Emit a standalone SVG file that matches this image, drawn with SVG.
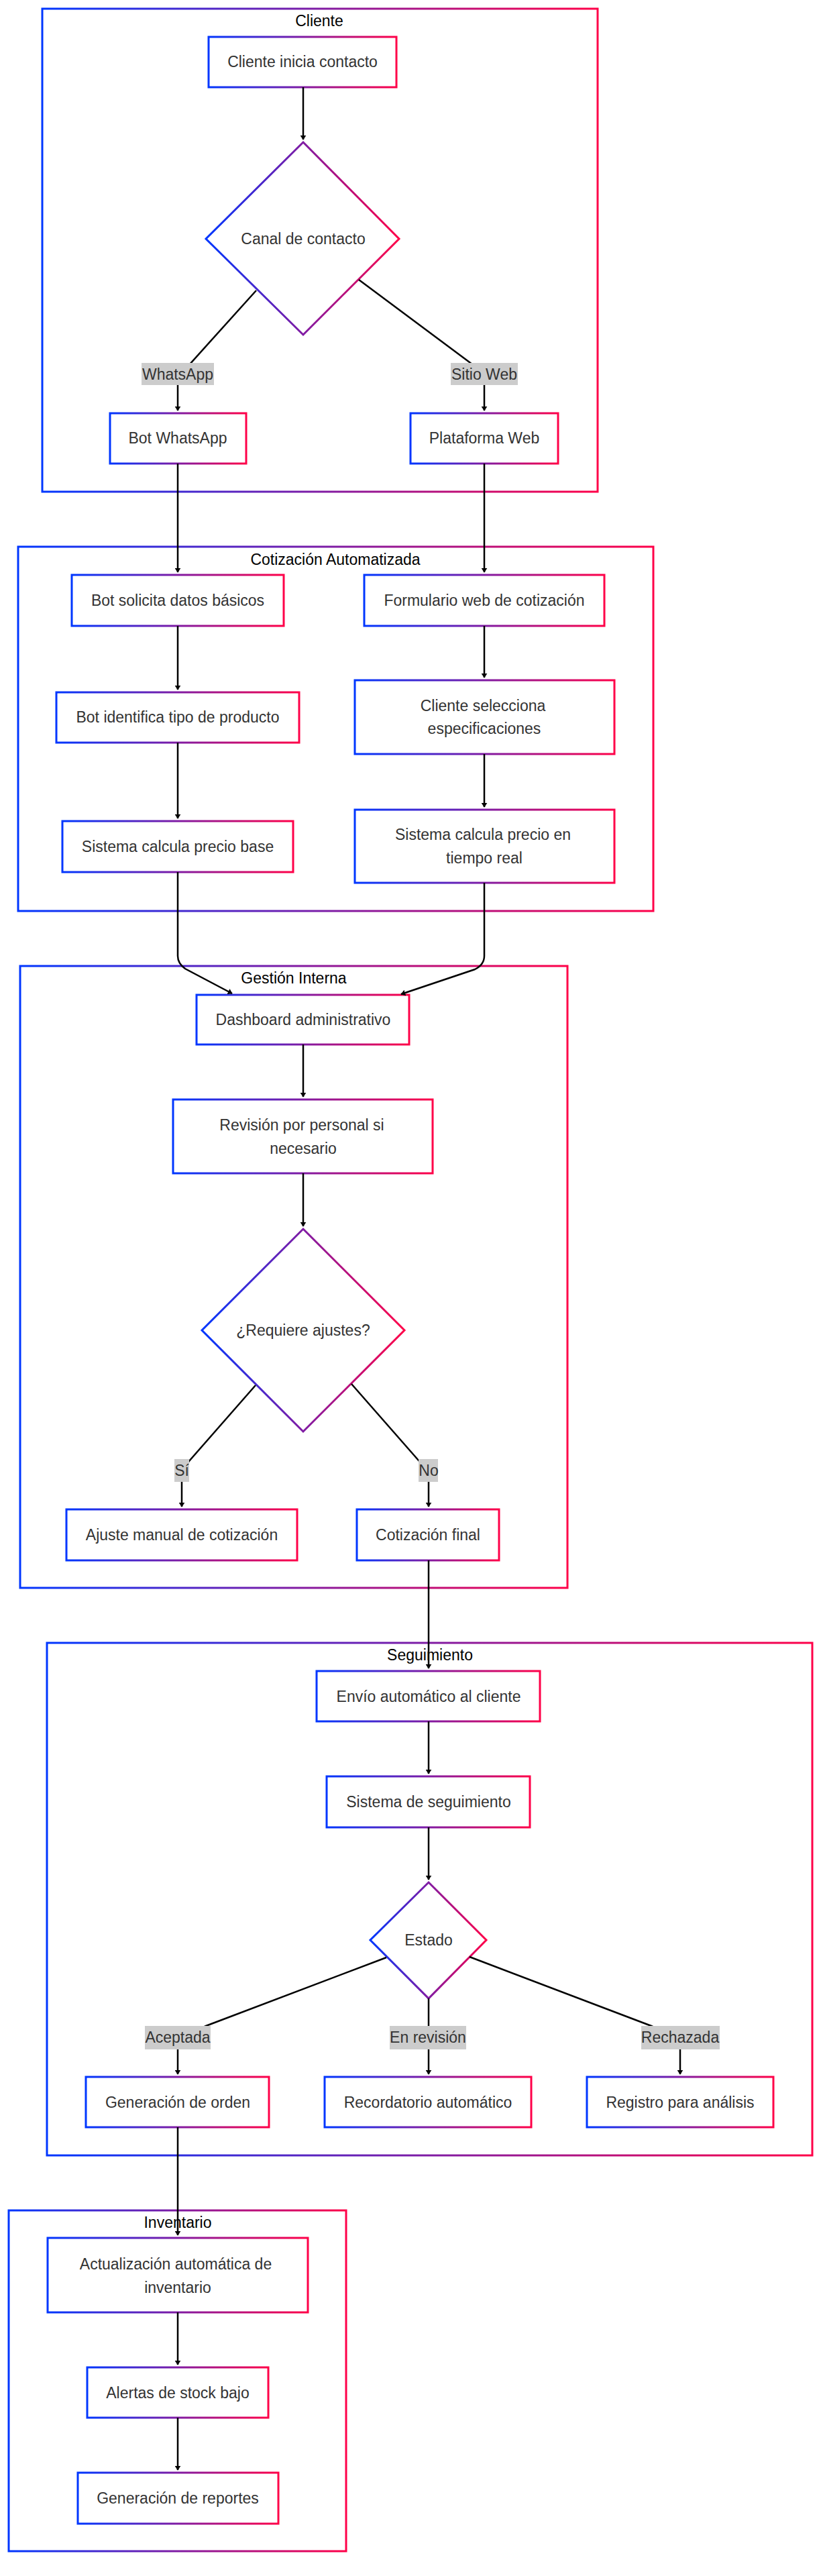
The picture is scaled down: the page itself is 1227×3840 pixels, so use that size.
<svg xmlns="http://www.w3.org/2000/svg" width="1227" height="3840" viewBox="0 0 1227 3840">
<defs>
<linearGradient id="g" x1="0" y1="0" x2="1" y2="0"><stop offset="0" stop-color="#0036ff"/><stop offset="1" stop-color="#ff0048"/></linearGradient>
<marker id="a" viewBox="0 0 10 10" refX="9" refY="5" markerWidth="7" markerHeight="9" markerUnits="userSpaceOnUse" orient="auto" preserveAspectRatio="none"><path d="M0,0 L10,5 L0,10 z" fill="#000"/></marker>
</defs>
<style>
rect,polygon{fill:#fff;stroke:url(#g);stroke-width:3}
.c{fill:none;stroke:url(#g);stroke-width:3}
text{font-family:"Liberation Sans",Arial,sans-serif;font-size:23px;fill:#333;text-anchor:middle;dominant-baseline:central}
.t{fill:#000}
.e path{fill:none;stroke:#000;stroke-width:2.5;marker-end:url(#a)}
.lb rect{fill:#cccccc;stroke:none}
</style>
<rect width="1227" height="3840" fill="#fff" style="stroke:none"/>
<g id="clusters">
<g id="cl-cliente"><rect class="c" x="63" y="13" width="828" height="720"/><text class="t" x="476" y="31">Cliente</text></g>
<g id="cl-cotizacion"><rect class="c" x="27" y="815" width="947" height="543"/><text class="t" x="500" y="834">Cotización Automatizada</text></g>
<g id="cl-gestion"><rect class="c" x="30" y="1440" width="816" height="927"/><text class="t" x="438" y="1458">Gestión Interna</text></g>
<g id="cl-seguimiento"><rect class="c" x="70" y="2449" width="1141" height="764"/><text class="t" x="641" y="2467">Seguimiento</text></g>
<g id="cl-inventario"><rect class="c" x="13" y="3295" width="503" height="508"/><text class="t" x="265" y="3313">Inventario</text></g>
</g>
<g id="n1"><rect x="311" y="55" width="280" height="75"/><text x="451" y="92">Cliente inicia contacto</text></g>
<g id="n2"><polygon points="452,212 595,356 452,499 307,356"/><text x="452" y="356">Canal de contacto</text></g>
<g id="n3"><rect x="164" y="616" width="203" height="75"/><text x="265" y="653">Bot WhatsApp</text></g>
<g id="n4"><rect x="612" y="616" width="220" height="75"/><text x="722" y="653">Plataforma Web</text></g>
<g id="n5"><rect x="107" y="857" width="316" height="76"/><text x="265" y="895">Bot solicita datos básicos</text></g>
<g id="n6"><rect x="543" y="857" width="358" height="76"/><text x="722" y="895">Formulario web de cotización</text></g>
<g id="n7"><rect x="84" y="1032" width="362" height="75"/><text x="265" y="1069">Bot identifica tipo de producto</text></g>
<g id="n8"><rect x="529" y="1014" width="387" height="110"/><text x="720" y="1052">Cliente selecciona</text><text x="722" y="1086">especificaciones</text></g>
<g id="n9"><rect x="93" y="1224" width="344" height="76"/><text x="265" y="1262">Sistema calcula precio base</text></g>
<g id="n10"><rect x="529" y="1207" width="387" height="109"/><text x="720" y="1244">Sistema calcula precio en</text><text x="722" y="1279">tiempo real</text></g>
<g id="n11"><rect x="293" y="1483" width="317" height="74"/><text x="452" y="1520">Dashboard administrativo</text></g>
<g id="n12"><rect x="258" y="1639" width="387" height="110"/><text x="450" y="1677">Revisión por personal si</text><text x="452" y="1712">necesario</text></g>
<g id="n13"><polygon points="452,1832 603,1983 452,2134 301,1983"/><text x="452" y="1983">¿Requiere ajustes?</text></g>
<g id="n14"><rect x="99" y="2250" width="344" height="76"/><text x="271" y="2288">Ajuste manual de cotización</text></g>
<g id="n15"><rect x="532" y="2250" width="212" height="76"/><text x="638" y="2288">Cotización final</text></g>
<g id="n16"><rect x="472" y="2491" width="333" height="75"/><text x="639" y="2529">Envío automático al cliente</text></g>
<g id="n17"><rect x="487" y="2648" width="303" height="76"/><text x="639" y="2686">Sistema de seguimiento</text></g>
<g id="n18"><polygon points="639,2806 725,2892 639,2979 552,2892"/><text x="639" y="2892">Estado</text></g>
<g id="n19"><rect x="128" y="3096" width="273" height="75"/><text x="265" y="3134">Generación de orden</text></g>
<g id="n20"><rect x="484" y="3096" width="308" height="75"/><text x="638" y="3134">Recordatorio automático</text></g>
<g id="n21"><rect x="875" y="3096" width="278" height="75"/><text x="1014" y="3134">Registro para análisis</text></g>
<g id="n22"><rect x="71" y="3336" width="388" height="111"/><text x="262" y="3375">Actualización automática de</text><text x="265" y="3410">inventario</text></g>
<g id="n23"><rect x="130" y="3529" width="270" height="75"/><text x="265" y="3567">Alertas de stock bajo</text></g>
<g id="n24"><rect x="116" y="3686" width="299" height="76"/><text x="265" y="3724">Generación de reportes</text></g>
<g id="connectors" class="e">
<path d="M452,130 L452,208"/>
<path d="M382,433 L281,545 L265,560 L265,612"/>
<path d="M535,417 L700,540 L722,557 L722,612"/>
<path d="M265,691 L265,853"/>
<path d="M722,691 L722,853"/>
<path d="M265,933 L265,1028"/>
<path d="M722,933 L722,1010"/>
<path d="M265,1107 L265,1220"/>
<path d="M722,1124 L722,1203"/>
<path d="M265,1300 L265,1425 Q265,1436 276,1444 L346,1481"/>
<path d="M722,1316 L722,1425 Q722,1438 708,1445 L598,1482"/>
<path d="M452,1557 L452,1635"/>
<path d="M452,1749 L452,1828"/>
<path d="M381,2065 L282,2178 L271,2195 L271,2246"/>
<path d="M524,2063 L624,2177 L639,2195 L639,2246"/>
<path d="M639,2326 L639,2487"/>
<path d="M639,2566 L639,2644"/>
<path d="M639,2724 L639,2802"/>
<path d="M576,2918 L307,3020 L265,3040 L265,3092"/>
<path d="M639,2979 L639,3092"/>
<path d="M700,2917 L971,3020 L1014,3040 L1014,3092"/>
<path d="M265,3171 L265,3332"/>
<path d="M265,3447 L265,3525"/>
<path d="M265,3604 L265,3682"/>
</g>
<g id="edge-labels" class="lb">
<g><rect x="211" y="541" width="108" height="33"/><text x="265" y="558">WhatsApp</text></g>
<g><rect x="672" y="541" width="100" height="33"/><text x="722" y="558">Sitio Web</text></g>
<g><rect x="260" y="2175" width="22" height="34"/><text x="271" y="2192">Sí</text></g>
<g><rect x="624" y="2175" width="29" height="34"/><text x="639" y="2192">No</text></g>
<g><rect x="216" y="3020" width="98" height="35"/><text x="265" y="3037">Aceptada</text></g>
<g><rect x="581" y="3020" width="114" height="35"/><text x="638" y="3037">En revisión</text></g>
<g><rect x="956" y="3020" width="117" height="35"/><text x="1014" y="3037">Rechazada</text></g>
</g>
</svg>
